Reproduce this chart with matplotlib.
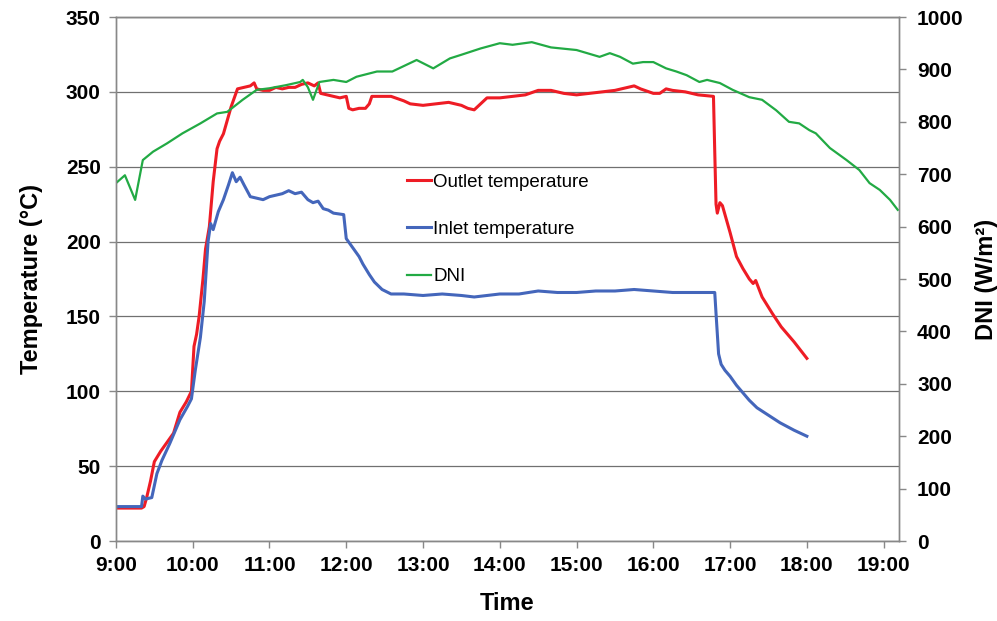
import matplotlib
matplotlib.use('Agg')
import matplotlib.pyplot as plt
from matplotlib.ticker import FuncFormatter

# outlet temperature (°C)
outlet_time = ['9:00', '9:20', '9:22', '9:24', '9:27', '9:30', '9:35', '9:40', '9:45', '9:50',
               '9:55', '9:59', '10:01', '10:03', '10:05', '10:08', '10:10', '10:13', '10:16', '10:19',
               '10:21', '10:24', '10:30', '10:35', '10:40', '10:45', '10:48', '10:50', '10:55', '11:00',
               '11:05', '11:10', '11:15', '11:20', '11:25', '11:30', '11:35', '11:38', '11:40', '11:45',
               '11:50', '11:55', '12:00', '12:02', '12:05', '12:10', '12:15', '12:18', '12:20', '12:25',
               '12:35', '12:45', '12:50', '13:00', '13:10', '13:20', '13:30', '13:35', '13:40', '13:45',
               '13:50', '14:00', '14:10', '14:20', '14:30', '14:40', '14:50', '15:00', '15:10', '15:20',
               '15:30', '15:40', '15:45', '15:50', '16:00', '16:05', '16:10', '16:15', '16:25', '16:35',
               '16:47', '16:48', '16:49', '16:50', '16:52', '16:54', '16:56', '17:00', '17:05', '17:10',
               '17:15', '17:18', '17:20', '17:25', '17:33', '17:40', '17:50', '18:00']
outlet_temp = [22, 22, 23, 29, 40, 53, 60, 66, 72, 86,
               93, 100, 130, 138, 150, 175, 195, 210, 240, 262,
               267, 272, 290, 302, 303, 304, 306, 302, 301, 301,
               303, 302, 303, 303, 305, 306, 304, 306, 299, 298,
               297, 296, 297, 289, 288, 289, 289, 292, 297, 297,
               297, 294, 292, 291, 292, 293, 291, 289, 288, 292,
               296, 296, 297, 298, 301, 301, 299, 298, 299, 300,
               301, 303, 304, 302, 299, 299, 302, 301, 300, 298,
               297, 260, 225, 219, 226, 224, 218, 206, 190, 182,
               175, 172, 174, 163, 152, 143, 133, 122]

# inlet temperature (°C)
inlet_time = ['9:00', '9:20', '9:21', '9:23', '9:28', '9:32', '9:36', '9:42', '9:50', '9:56',
              '9:59', '10:02', '10:06', '10:09', '10:12', '10:14', '10:16', '10:20', '10:24', '10:28',
              '10:31', '10:34', '10:37', '10:40', '10:45', '10:50', '10:55', '11:00', '11:05', '11:10',
              '11:15', '11:20', '11:25', '11:30', '11:34', '11:38', '11:42', '11:46', '11:50', '11:58',
              '12:00', '12:05', '12:10', '12:13', '12:18', '12:22', '12:28', '12:35', '12:45', '13:00',
              '13:15', '13:30', '13:40', '13:50', '14:00', '14:15', '14:30', '14:45', '15:00', '15:15',
              '15:30', '15:45', '16:00', '16:15', '16:30', '16:48', '16:49', '16:51', '16:53', '16:56',
              '17:00', '17:05', '17:10', '17:15', '17:21', '17:30', '17:39', '17:50', '18:00']
inlet_temp = [23, 23, 30, 28, 29, 45, 54, 65, 81, 90,
              95, 114, 136, 160, 200, 212, 208, 220, 228, 238,
              246, 240, 243, 238, 230, 229, 228, 230, 231, 232,
              234, 232, 233, 228, 226, 227, 222, 221, 219, 218,
              202, 196, 190, 185, 178, 173, 168, 165, 165, 164,
              165, 164, 163, 164, 165, 165, 167, 166, 166, 167,
              167, 168, 167, 166, 166, 166, 152, 125, 118, 114,
              110, 104, 99, 94, 89, 84, 79, 74, 70]

# DNI (W/m²)
dni_time = ['9:00', '9:07', '9:15', '9:21', '9:29', '9:40', '9:52', '10:06', '10:19', '10:27',
            '10:39', '10:50', '11:00', '11:13', '11:24', '11:26', '11:30', '11:34', '11:39', '11:50',
            '12:00', '12:08', '12:24', '12:36', '12:55', '13:08', '13:21', '13:30', '13:45', '14:00',
            '14:10', '14:25', '14:40', '15:00', '15:18', '15:26', '15:34', '15:44', '15:52', '16:00',
            '16:10', '16:18', '16:26', '16:36', '16:42', '16:52', '17:02', '17:15', '17:25', '17:36',
            '17:46', '17:54', '18:02', '18:07', '18:18', '18:31', '18:41', '18:49', '18:57', '19:05',
            '19:11']
dni = [683, 698, 651, 727, 743, 759, 778, 797, 816, 819,
       842, 861, 864, 870, 876, 880, 866, 842, 876, 880,
       876, 886, 896, 896, 918, 902, 921, 928, 940, 950,
       947, 952, 942, 937, 924, 931, 924, 911, 914, 914,
       902, 896, 889, 876, 880, 874, 861, 847, 842, 822,
       800, 797, 784, 778, 750, 727, 708, 683, 670, 651,
       632]

hour_ticks = list(range(9, 20))


def to_hours(labels):
    out = []
    for s in labels:
        h, m = s.split(':')
        out.append(int(h) + int(m) / 60.0)
    return out


plt.rcParams['font.family'] = ['Liberation Sans', 'DejaVu Sans']

fig = plt.figure(figsize=(9.97, 6.21), dpi=100)
ax = fig.add_axes([0.1163, 0.1288, 0.7854, 0.8438])
ax2 = ax.twinx()

l1, = ax.plot(to_hours(outlet_time), outlet_temp, color='#ee1c25', lw=2.2, label='Outlet temperature')
l2, = ax.plot(to_hours(inlet_time), inlet_temp, color='#4466bb', lw=2.2, label='Inlet temperature')
l3, = ax2.plot(to_hours(dni_time), dni, color='#22aa44', lw=1.6, label='DNI')

ax.set_xlim(9, 19.2)
ax.set_ylim(0, 350)
ax2.set_ylim(0, 1000)
ax.set_yticks(range(0, 351, 50))
ax2.set_yticks(range(0, 1001, 100))
ax.set_xticks(hour_ticks)
ax.xaxis.set_major_formatter(FuncFormatter(lambda v, p: '%d:00' % int(round(v))))

ax.grid(axis='y', color='#707070', lw=0.9)
ax.set_axisbelow(True)

for a in (ax, ax2):
    for s in ('left', 'right', 'bottom', 'top'):
        a.spines[s].set_color('#888888')
        a.spines[s].set_linewidth(1.0)
    a.tick_params(colors='black', width=1.0, length=5, labelsize=15, direction='out', pad=6)
    for lab in a.get_xticklabels() + a.get_yticklabels():
        lab.set_fontweight('bold')
ax.spines['top'].set_color('#707070')
ax.tick_params(axis='both', color='#888888')
ax2.tick_params(axis='y', color='#888888', pad=8)

ax.set_xlabel('Time', fontsize=17, fontweight='bold', labelpad=12)
ax.set_ylabel('Temperature (°C)', fontsize=17, fontweight='bold', labelpad=16)
ax2.set_ylabel('DNI (W/m²)', fontsize=17, fontweight='bold', labelpad=8)

ax2.legend(handles=[l1, l2, l3], loc='upper left', bbox_to_anchor=(0.35, 0.733),
           frameon=False, fontsize=13.5, handlelength=1.3, handletextpad=0.1,
           labelspacing=1.6)

fig.savefig('out.png', dpi=100)
